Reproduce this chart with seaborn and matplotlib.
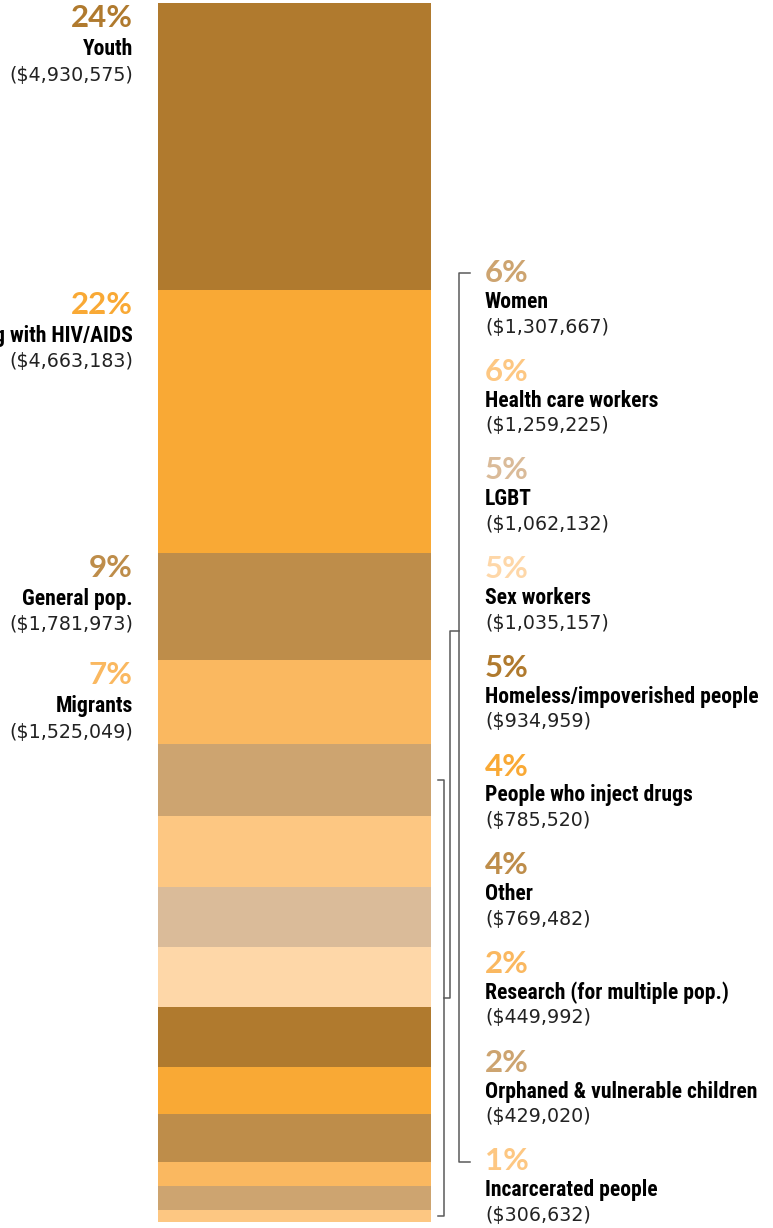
import numpy as np
import pandas as pd
import seaborn as sns
import matplotlib
matplotlib.use("Agg")
import matplotlib.pyplot as plt
from matplotlib import font_manager
from matplotlib.lines import Line2D
from matplotlib.transforms import blended_transform_factory


# datos del grafico (de arriba hacia abajo)
groups = ["Youth", "People living with HIV/AIDS", "General pop.", "Migrants",
          "Women", "Health care workers", "LGBT", "Sex workers",
          "Homeless/impoverished people", "People who inject drugs", "Other",
          "Research (for multiple pop.)", "Orphaned & vulnerable children",
          "Incarcerated people"]
amounts = [4930575, 4663183, 1781973, 1525049, 1307667, 1259225, 1062132,
           1035157, 934959, 785520, 769482, 449992, 429020, 306632]
percents = [24, 22, 9, 7, 6, 6, 5, 5, 5, 4, 4, 2, 2, 1]
palette_cycle = ["#B07A2E", "#F9A935", "#BE8D4A", "#FAB860",
                 "#CDA470", "#FDC782", "#DABB99", "#FED7A8"]
left_groups = groups[:4]   # etiquetas a la izquierda de la barra
right_groups = groups[4:]  # etiquetas a la derecha

colors = [palette_cycle[i % len(palette_cycle)] for i in range(len(groups))]
color_of = dict(zip(groups, colors))

# la altura de cada segmento sigue el porcentaje redondeado
df = pd.DataFrame({"group": groups, "amount": amounts, "pct": percents})
df["end"] = df["pct"].cumsum()
df["start"] = df["end"] - df["pct"]
total = df["end"].iloc[-1]

# fuentes
names = {f.name for f in font_manager.fontManager.ttflist}
cond = next((n for n in ["Roboto Condensed", "Liberation Sans Narrow", "Open Sans Condensed"]
             if n in names), "Roboto")
pct_font = "Lato" if "Lato" in names else "DejaVu Sans"
amt_font = "DejaVu Sans"

W, H = 773, 1228
fig = plt.figure(figsize=(W / 100, H / 100), dpi=100)
ax = fig.add_axes([158 / W, 6 / H, 273 / W, 1219 / H])

# barra apilada: barras acumuladas superpuestas, la mas larga primero
sns.barplot(x=["all"] * len(df), y=df["end"], hue=df["group"],
            hue_order=groups[::-1], palette=color_of, dodge=False,
            saturation=1, width=1, linewidth=0, errorbar=None,
            legend=False, ax=ax)
for p in ax.patches:
    p.set_zorder(10 - 5 * p.get_height() / total)
ax.set_xlim(-0.5, 0.5)
ax.set_ylim(total, 0)
ax.axis("off")

px = 72 / 100  # pixeles -> puntos
blend = blended_transform_factory(fig.transFigure, ax.transData)

pct_kw = dict(fontsize=22.5, fontweight="bold", family=pct_font)
name_kw = dict(color="black", fontsize=15.6, fontweight="bold", family=cond)
amt_kw = dict(color="#222222", fontsize=13.7, family=amt_font)

# etiquetas izquierdas, alineadas con el inicio de cada segmento
for _, r in df[df["group"].isin(left_groups)].iterrows():
    c = color_of[r["group"]]
    for txt, dy, kw in [(f"{r['pct']}%", 15, dict(color=c, **pct_kw)),
                        (r["group"], 46, name_kw),
                        (f"(${r['amount']:,})", 72, amt_kw)]:
        ax.annotate(txt, xy=(133 / W, r["start"]), xycoords=blend,
                    xytext=(0, -dy * px), textcoords="offset points",
                    ha="right", va="center", annotation_clip=False, **kw)

# etiquetas derechas, espaciadas de forma uniforme
for i, g in enumerate(right_groups):
    r = df[df["group"] == g].iloc[0]
    y0 = 273 + 98.7 * i
    fig.text(485 / W, 1 - y0 / H, f"{r['pct']}%", color=color_of[g],
             ha="left", va="center", **pct_kw)
    fig.text(485 / W, 1 - (y0 + 29) / H, g, ha="left", va="center", **name_kw)
    fig.text(485 / W, 1 - (y0 + 54) / H, f"(${r['amount']:,})",
             ha="left", va="center", **amt_kw)

# corchetes
line_kw = dict(color="#5a5a5a", lw=1.1)
fy = lambda y: 1 - y / H
# corchete de las etiquetas derechas
fig.add_artist(Line2D(np.array([470, 459, 459, 470]) / W,
                      [fy(273), fy(273), fy(1162), fy(1162)],
                      transform=fig.transFigure, **line_kw))
# corchete de los segmentos pequenos de la barra
women = df[df["group"] == "Women"].iloc[0]
inc = df[df["group"] == "Incarcerated people"].iloc[0]
c_top = (women["start"] + women["end"]) / 2
c_bot = (inc["start"] + inc["end"]) / 2
fig.add_artist(Line2D(np.array([438, 444, 444, 438]) / W,
                      [c_top, c_top, c_bot, c_bot],
                      transform=blend, **line_kw))
# union entre ambos corchetes
c_mid = (c_top + c_bot) / 2
y_mid_px = H - ax.transData.transform((0, c_mid))[1]
fig.add_artist(Line2D(np.array([459, 450, 450, 444]) / W,
                      [fy(631), fy(631), fy(y_mid_px), fy(y_mid_px)],
                      transform=fig.transFigure, **line_kw))

fig.savefig("out.png", dpi=100)
